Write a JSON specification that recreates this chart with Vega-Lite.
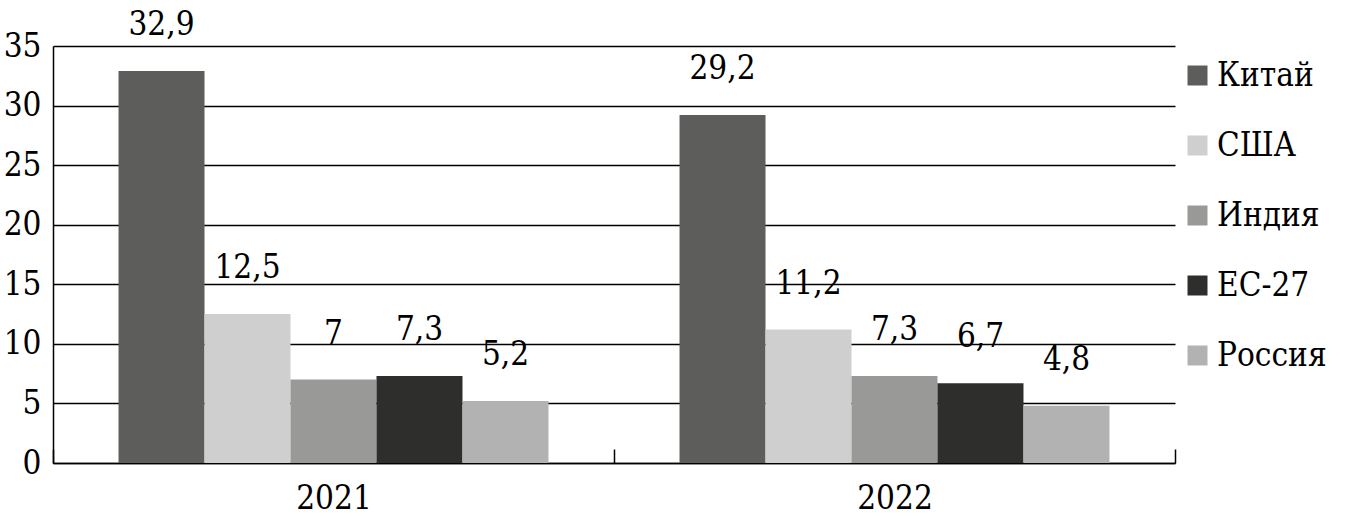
{
  "$schema": "https://vega.github.io/schema/vega-lite/v6.json",
  "width": 1122,
  "height": 417,
  "autosize": "none",
  "padding": {"left": 53, "top": 46, "right": 176, "bottom": 62},
  "background": "white",
  "config": {
    "font": "DejaVu Serif Condensed",
    "view": {"stroke": null},
    "locale": {"number": {"decimal": ",", "thousands": " ", "grouping": [3], "currency": ["", ""]}}
  },
  "data": {
    "values": [
      {"year": "2021", "country": "Китай", "value": 32.9},
      {"year": "2021", "country": "США", "value": 12.5},
      {"year": "2021", "country": "Индия", "value": 7},
      {"year": "2021", "country": "ЕС-27", "value": 7.3},
      {"year": "2021", "country": "Россия", "value": 5.2},
      {"year": "2022", "country": "Китай", "value": 29.2},
      {"year": "2022", "country": "США", "value": 11.2},
      {"year": "2022", "country": "Индия", "value": 7.3},
      {"year": "2022", "country": "ЕС-27", "value": 6.7},
      {"year": "2022", "country": "Россия", "value": 4.8}
    ]
  },
  "encoding": {
    "x": {
      "field": "year", "type": "nominal",
      "scale": {"paddingInner": 0, "paddingOuter": 0},
      "axis": {
        "title": null, "labelAngle": 0, "labelFontSize": 33, "labelColor": "black",
        "labelFont": "DejaVu Serif Condensed",
        "domainColor": "black", "domainWidth": 1.5,
        "tickColor": "black", "tickWidth": 1.5, "tickSize": -14, "tickBand": "extent",
        "labelPadding": 33, "labelBaseline": "top"
      }
    },
    "xOffset": {
      "field": "country", "type": "nominal", "sort": ["Китай", "США", "Индия", "ЕС-27", "Россия"],
      "scale": {"paddingInner": 0, "paddingOuter": 0.762}
    },
    "y": {
      "field": "value", "type": "quantitative",
      "scale": {"domain": [0, 35], "nice": false},
      "axis": {
        "title": null, "values": [0, 5, 10, 15, 20, 25, 30, 35],
        "labelFontSize": 33, "labelColor": "black", "labelFont": "DejaVu Serif Condensed",
        "ticks": false, "labelPadding": 12,
        "domainColor": "black", "domainWidth": 1.5,
        "gridColor": "black", "gridWidth": 1.5, "gridOpacity": 1
      }
    }
  },
  "layer": [
    {
      "mark": {"type": "bar"},
      "encoding": {
        "color": {
          "field": "country", "type": "nominal",
          "sort": ["Китай", "США", "Индия", "ЕС-27", "Россия"],
          "scale": {
            "domain": ["Китай", "США", "Индия", "ЕС-27", "Россия"],
            "range": ["#5d5d5b", "#cfcfcf", "#999997", "#2e2e2c", "#b2b2b2"]
          },
          "legend": {
            "title": null, "orient": "none", "legendX": 1128, "legendY": 13,
            "symbolType": "square", "symbolSize": 400, "symbolStrokeWidth": 0, "symbolOpacity": 1,
            "labelFontSize": 33, "labelFont": "DejaVu Serif Condensed", "labelColor": "black",
            "labelOffset": 3, "rowPadding": 36, "labelLimit": 300
          }
        }
      }
    },
    {
      "mark": {"type": "text", "fontSize": 33, "font": "DejaVu Serif Condensed", "color": "black", "baseline": "alphabetic", "dy": -36},
      "encoding": {
        "text": {"field": "value", "type": "quantitative", "format": ".1~f"}
      }
    }
  ]
}
